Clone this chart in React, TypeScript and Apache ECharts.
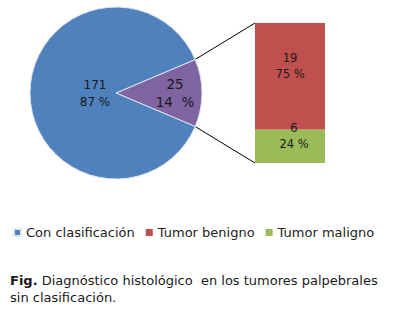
import React, { useEffect, useRef } from "react";
import * as echarts from "echarts";

const pieNames = ["Sin clasificación", "Con clasificación"];
const pieValues = [25, 171];
const piePercents = ["14  %", "87 %"];
const barNames = ["Tumor benigno", "Tumor maligno"];
const barValues = [19, 6];
const barPercents = ["75 %", "24 %"];
const legendNames = ["Con clasificación", "Tumor benigno", "Tumor maligno"];
const captionBold = "Fig.";
const captionText = " Diagnóstico histológico  en los tumores palpebrales\nsin clasificación.";

const BLUE = "#4F81BD";
const PURPLE = "#8064A2";
const RED = "#C0504D";
const GREEN = "#9BBB59";
const FONT = "DejaVu Sans";

export default function App() {
  const ref = useRef<HTMLDivElement>(null);
  useEffect(() => {
    if (!ref.current) return;
    const chart = echarts.init(ref.current, undefined, { renderer: "svg" });
    const total = pieValues.reduce((a, b) => a + b, 0);
    const half = (pieValues[0] / total) * 360 / 2;
    const cx = 116, cy = 93, r = 86;
    const gl = 255, gt = 23, gw = 70, gh = 140;
    const rad = (half * Math.PI) / 180;
    const p1 = [cx + r * Math.cos(rad), cy - r * Math.sin(rad)];
    const p2 = [cx + r * Math.cos(rad), cy + r * Math.sin(rad)];

    const labelPie = (radius: number, idx: number, size: number, padding: number[]) => ({
      type: "pie",
      silent: true,
      center: [cx, cy],
      radius,
      startAngle: half,
      legendHoverLink: false,
      itemStyle: { color: "transparent" },
      labelLine: { show: false },
      data: pieValues.map((v, i) => ({
        value: v,
        name: "lbl" + radius + "-" + i,
        label: {
          show: i === idx,
          position: "inside",
          formatter: v + "\n" + piePercents[i],
          color: "#1a1a1a",
          fontFamily: FONT,
          fontSize: size,
          lineHeight: size + 5,
          padding,
        },
      })),
    });

    chart.setOption({
      animation: false,
      legend: {
        data: legendNames,
        left: 13,
        top: 226,
        padding: 0,
        icon: "rect",
        itemWidth: 7,
        itemHeight: 7,
        itemGap: 11,
        textStyle: { fontFamily: FONT, fontSize: 13, color: "#222" },
      },
      grid: { left: gl, top: gt, width: gw, height: gh },
      xAxis: { type: "category", data: ["x"], show: false },
      yAxis: { type: "value", min: 0, max: barValues[0] + barValues[1], show: false },
      series: [
        {
          type: "pie",
          center: [cx, cy],
          radius: r,
          startAngle: half,
          itemStyle: { borderColor: "#dfe6f0", borderWidth: 1 },
          label: { show: false },
          labelLine: { show: false },
          data: pieNames.map((n, i) => ({
            name: n,
            value: pieValues[i],
            itemStyle: { color: i === 0 ? PURPLE : BLUE },
          })),
        },
        labelPie(44, 1, 12, [0, 0, 4, 8]),
        labelPie(112, 0, 13.5, [0, 0, 16, 0]),
        {
          type: "bar",
          name: barNames[1],
          stack: "a",
          barWidth: "100%",
          itemStyle: { color: GREEN },
          label: {
            show: true,
            position: "inside",
            offset: [4, -10],
            formatter: barValues[1] + "\n" + barPercents[1],
            color: "#1a1a1a",
            fontFamily: FONT,
            fontSize: 11.5,
            lineHeight: 16,
          },
          data: [barValues[1]],
        },
        {
          type: "bar",
          name: barNames[0],
          stack: "a",
          barWidth: "100%",
          itemStyle: { color: RED },
          label: {
            show: true,
            position: "inside",
            offset: [0, -10],
            formatter: barValues[0] + "\n" + barPercents[0],
            color: "#1a1a1a",
            fontFamily: FONT,
            fontSize: 11.5,
            lineHeight: 16,
          },
          data: [barValues[0]],
        },
      ],
      graphic: [
        {
          type: "line",
          shape: { x1: p1[0], y1: p1[1], x2: gl, y2: gt },
          style: { stroke: "#000", lineWidth: 1 },
        },
        {
          type: "line",
          shape: { x1: p2[0], y1: p2[1], x2: gl, y2: gt + gh },
          style: { stroke: "#000", lineWidth: 1 },
        },
        {
          type: "text",
          left: 10,
          top: 272,
          style: {
            text: "{b|" + captionBold + "}" + captionText,
            fontFamily: FONT,
            fontSize: 13,
            lineHeight: 17,
            fill: "#1a1a1a",
            rich: { b: { fontWeight: "bold", fontFamily: FONT, fontSize: 13, fill: "#1a1a1a" } },
          },
        },
      ],
    });
    return () => chart.dispose();
  }, []);
  return (
    <div
      ref={ref}
      style={{ position: "fixed", left: 0, top: 0, width: 409, height: 320, background: "#fff" }}
    />
  );
}
